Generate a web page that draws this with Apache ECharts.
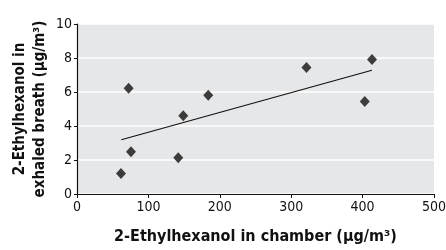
<!DOCTYPE html>
<html>
<head>
<meta charset="utf-8">
<script src="https://cdn.jsdelivr.net/npm/echarts@6/dist/echarts.min.js"></script>
<style>
html, body { margin: 0; padding: 0; background: #fff; }
#chamberChart { width: 446px; height: 250px; }
</style>
</head>
<body>
<div id="chamberChart"></div>
<script>
// values
let chamberConc = [61.6, 72.3, 75.6, 141.8, 148.8, 183.8, 321.4, 403, 413.2]
let breathConc = [1.21, 6.22, 2.49, 2.13, 4.6, 5.81, 7.44, 5.44, 7.91]
let trendX = [62, 413]
let trendY = [3.19, 7.28]
let xTicks = [0, 100, 200, 300, 400, 500]
let yTicks = [0, 2, 4, 6, 8, 10]

let font = '"DejaVu Sans Condensed", "Liberation Sans Narrow", sans-serif'

let chart = echarts.init(document.getElementById('chamberChart'))
let option = {
    animation: false,
    grid: {
        left: 77,
        right: 12,
        top: 24,
        bottom: 56,
        outerBoundsMode: 'none',
        containLabel: false,
        show: true,
        backgroundColor: '#e6e7e8',
        borderWidth: 0
    },
    xAxis: {
        type: 'value',
        min: xTicks[0],
        max: xTicks[xTicks.length - 1],
        interval: 100,
        name: '2-Ethylhexanol in chamber (μg/m³)',
        nameLocation: 'middle',
        nameGap: 35,
        nameMoveOverlap: false,
        nameTextStyle: { fontFamily: font, fontWeight: 'bold', fontSize: 16, color: '#111' },
        axisLine: { lineStyle: { color: '#111', width: 1.2 } },
        axisTick: { show: true, length: 4, lineStyle: { color: '#111' } },
        axisLabel: { fontFamily: font, fontSize: 14, color: '#111', margin: 6 },
        splitLine: { show: false }
    },
    yAxis: {
        type: 'value',
        min: yTicks[0],
        max: yTicks[yTicks.length - 1],
        interval: 2,
        name: '2-Ethylhexanol in\nexhaled breath (μg/m³)',
        nameLocation: 'middle',
        nameRotate: 90,
        nameGap: 27,
        nameMoveOverlap: false,
        nameTextStyle: { fontFamily: font, fontWeight: 'bold', fontSize: 15, color: '#111', lineHeight: 20 },
        axisLine: { show: true, lineStyle: { color: '#111', width: 1.2 } },
        axisTick: { show: true, length: 3, lineStyle: { color: '#111' } },
        axisLabel: { fontFamily: font, fontSize: 14, color: '#111', margin: 5 },
        splitLine: { show: true, lineStyle: { color: '#ffffff', width: 1.5 } }
    },
    series: [
        {
            type: 'line',
            data: trendX.map((x, i) => [x, trendY[i]]),
            symbol: 'none',
            lineStyle: { color: '#111', width: 1.2 },
            z: 2
        },
        {
            type: 'scatter',
            data: chamberConc.map((x, i) => [x, breathConc[i]]),
            symbol: 'diamond',
            symbolSize: [10, 11],
            itemStyle: { color: '#111' },
            z: 3
        }
    ]
}
chart.setOption(option)
</script>
</body>
</html>
